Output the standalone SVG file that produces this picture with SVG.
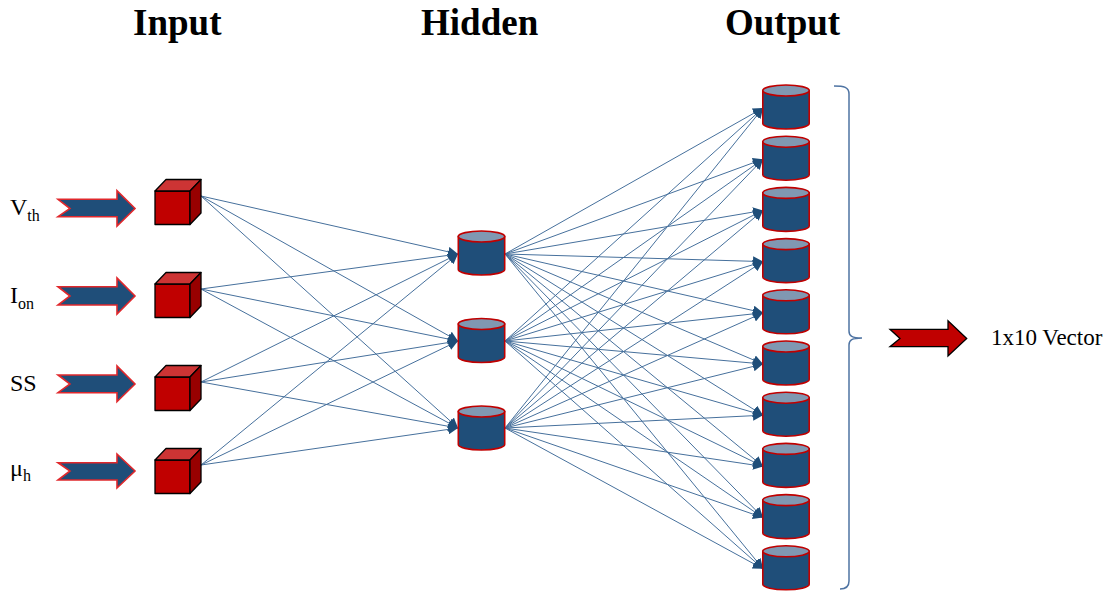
<svg xmlns="http://www.w3.org/2000/svg" xmlns:xlink="http://www.w3.org/1999/xlink" width="1117" height="591" viewBox="0 0 1117 591">
  <style>
    .title { font-family: "Liberation Serif", "Times New Roman", serif; font-weight: bold; font-size: 37px; fill: #000; }
    .lbl { font-family: "Liberation Serif", "Times New Roman", serif; font-size: 24px; fill: #000; }
    .sub { font-size: 16px; }
    .vec { font-family: "Liberation Serif", "Times New Roman", serif; font-size: 23px; fill: #000; }
    .in-arrow { fill: #1f4e79; stroke: #e0282c; stroke-width: 1.6; stroke-linejoin: miter; }
    .out-arrow { fill: #c00000; stroke: #000; stroke-width: 1.3; }
    .link { stroke: #46709c; stroke-width: 1; fill: none; marker-end: url(#tip); }
    .brace { stroke: #4f74a3; stroke-width: 1.5; fill: none; }
    .cube-front { fill: #c00000; }
    .cube-top { fill: #cd3434; }
    .cube-side { fill: #980000; }
    .cube-edge { stroke: #000; stroke-width: 1.3; stroke-linejoin: round; }
    .cyl-body { fill: #1f4e79; stroke: #c00000; stroke-width: 1.6; }
    .cyl-top { fill: #8098b2; stroke: #c00000; stroke-width: 1.6; }
  </style>
  <defs>
    <marker id="tip" viewBox="0 0 10 10" refX="10" refY="5" markerUnits="userSpaceOnUse" markerWidth="10" markerHeight="10" orient="auto">
      <path d="M0,0 L10,5 L0,10 Z" fill="#1f4e79"/>
    </marker>
    <!-- red cube, 46 x 45 bounding box -->
    <g id="cube">
      <rect class="cube-front cube-edge" x="0" y="11.5" width="35" height="33.5"/>
      <polygon class="cube-top cube-edge" points="0,11.5 11,0 46,0 35,11.5"/>
      <polygon class="cube-side cube-edge" points="35,11.5 46,0 46,33.5 35,45"/>
    </g>
    <!-- blue cylinder, 46.4 x 44 bounding box -->
    <g id="cyl">
      <path class="cyl-body" d="M0,5.5 L0,38.5 A23.2,5.5 0 0 0 46.4,38.5 L46.4,5.5 Z"/>
      <ellipse class="cyl-top" cx="23.2" cy="5.5" rx="23.2" ry="5.5"/>
    </g>
  </defs>

  <rect width="1117" height="591" fill="#fff"/>

  <!-- layer titles -->
  <text class="title" x="133" y="35">Input</text>
  <text class="title" x="421" y="35">Hidden</text>
  <text class="title" x="725" y="35">Output</text>

  <!-- connectors -->
  <g id="connectors">
    <!-- input to hidden -->
    <line class="link" x1="201" y1="196" x2="458" y2="254"/>
    <line class="link" x1="201" y1="196" x2="458" y2="341"/>
    <line class="link" x1="201" y1="196" x2="458" y2="428"/>
    <line class="link" x1="201" y1="289" x2="458" y2="254"/>
    <line class="link" x1="201" y1="289" x2="458" y2="341"/>
    <line class="link" x1="201" y1="289" x2="458" y2="428"/>
    <line class="link" x1="201" y1="382" x2="458" y2="254"/>
    <line class="link" x1="201" y1="382" x2="458" y2="341"/>
    <line class="link" x1="201" y1="382" x2="458" y2="428"/>
    <line class="link" x1="201" y1="465" x2="458" y2="254"/>
    <line class="link" x1="201" y1="465" x2="458" y2="341"/>
    <line class="link" x1="201" y1="465" x2="458" y2="428"/>
    <!-- hidden 1 to output -->
    <line class="link" x1="505" y1="254" x2="763" y2="108"/>
    <line class="link" x1="505" y1="254" x2="763" y2="159.2"/>
    <line class="link" x1="505" y1="254" x2="763" y2="210.4"/>
    <line class="link" x1="505" y1="254" x2="763" y2="261.6"/>
    <line class="link" x1="505" y1="254" x2="763" y2="312.8"/>
    <line class="link" x1="505" y1="254" x2="763" y2="364"/>
    <line class="link" x1="505" y1="254" x2="763" y2="415.2"/>
    <line class="link" x1="505" y1="254" x2="763" y2="466.4"/>
    <line class="link" x1="505" y1="254" x2="763" y2="517.6"/>
    <line class="link" x1="505" y1="254" x2="763" y2="568.8"/>
    <!-- hidden 2 to output -->
    <line class="link" x1="505" y1="341" x2="763" y2="108"/>
    <line class="link" x1="505" y1="341" x2="763" y2="159.2"/>
    <line class="link" x1="505" y1="341" x2="763" y2="210.4"/>
    <line class="link" x1="505" y1="341" x2="763" y2="261.6"/>
    <line class="link" x1="505" y1="341" x2="763" y2="312.8"/>
    <line class="link" x1="505" y1="341" x2="763" y2="364"/>
    <line class="link" x1="505" y1="341" x2="763" y2="415.2"/>
    <line class="link" x1="505" y1="341" x2="763" y2="466.4"/>
    <line class="link" x1="505" y1="341" x2="763" y2="517.6"/>
    <line class="link" x1="505" y1="341" x2="763" y2="568.8"/>
    <!-- hidden 3 to output -->
    <line class="link" x1="505" y1="428" x2="763" y2="108"/>
    <line class="link" x1="505" y1="428" x2="763" y2="159.2"/>
    <line class="link" x1="505" y1="428" x2="763" y2="210.4"/>
    <line class="link" x1="505" y1="428" x2="763" y2="261.6"/>
    <line class="link" x1="505" y1="428" x2="763" y2="312.8"/>
    <line class="link" x1="505" y1="428" x2="763" y2="364"/>
    <line class="link" x1="505" y1="428" x2="763" y2="415.2"/>
    <line class="link" x1="505" y1="428" x2="763" y2="466.4"/>
    <line class="link" x1="505" y1="428" x2="763" y2="517.6"/>
    <line class="link" x1="505" y1="428" x2="763" y2="568.8"/>
  </g>

  <!-- input features -->
  <g id="feature-vth">
    <text class="lbl" x="10" y="215">V<tspan class="sub" dy="6">th</tspan></text>
    <polygon class="in-arrow" points="58,199.3 117,199.3 117,190.7 135,208.5 117,226 117,216.7 58,216.7 70,208.5"/>
  </g>
  <g id="feature-ion">
    <text class="lbl" x="10" y="302.5">I<tspan class="sub" dy="6">on</tspan></text>
    <polygon class="in-arrow" points="58,286.7 117,286.7 117,278 135,296 117,314 117,305 58,305 70,296"/>
  </g>
  <g id="feature-ss">
    <text class="lbl" x="10" y="390.5">SS</text>
    <polygon class="in-arrow" points="58,375 117,375 117,366 135,384 117,401.7 117,392.7 58,392.7 70,384"/>
  </g>
  <g id="feature-mu">
    <text class="lbl" x="10" y="476">μ<tspan class="sub" dy="5">h</tspan></text>
    <polygon class="in-arrow" points="58,462.7 117,462.7 117,454 135,471 117,488 117,480 58,480 70,471"/>
  </g>

  <!-- input nodes -->
  <g id="input-1"><use xlink:href="#cube" href="#cube" x="155" y="179.5"/></g>
  <g id="input-2"><use xlink:href="#cube" href="#cube" x="155" y="272.5"/></g>
  <g id="input-3"><use xlink:href="#cube" href="#cube" x="155" y="365.5"/></g>
  <g id="input-4"><use xlink:href="#cube" href="#cube" x="155" y="448.5"/></g>

  <!-- hidden nodes -->
  <g id="hidden-1"><use xlink:href="#cyl" href="#cyl" x="458.3" y="231"/></g>
  <g id="hidden-2"><use xlink:href="#cyl" href="#cyl" x="458.3" y="318.5"/></g>
  <g id="hidden-3"><use xlink:href="#cyl" href="#cyl" x="458.3" y="406"/></g>

  <!-- output nodes -->
  <g id="output-1"><use xlink:href="#cyl" href="#cyl" x="762.8" y="85"/></g>
  <g id="output-2"><use xlink:href="#cyl" href="#cyl" x="762.8" y="136.2"/></g>
  <g id="output-3"><use xlink:href="#cyl" href="#cyl" x="762.8" y="187.4"/></g>
  <g id="output-4"><use xlink:href="#cyl" href="#cyl" x="762.8" y="238.6"/></g>
  <g id="output-5"><use xlink:href="#cyl" href="#cyl" x="762.8" y="289.8"/></g>
  <g id="output-6"><use xlink:href="#cyl" href="#cyl" x="762.8" y="341"/></g>
  <g id="output-7"><use xlink:href="#cyl" href="#cyl" x="762.8" y="392.2"/></g>
  <g id="output-8"><use xlink:href="#cyl" href="#cyl" x="762.8" y="443.4"/></g>
  <g id="output-9"><use xlink:href="#cyl" href="#cyl" x="762.8" y="494.6"/></g>
  <g id="output-10"><use xlink:href="#cyl" href="#cyl" x="762.8" y="545.8"/></g>

  <!-- brace grouping the outputs -->
  <g id="output-brace">
    <path class="brace" d="M834,86 C844,86 849,87 849,94 L849,331 C849,336 852,338 862,338 C852,338 849,340 849,345 L849,581 C849,587 846,589 840,589"/>
  </g>

  <!-- result vector -->
  <g id="result-vector">
    <polygon class="out-arrow" points="890,329.3 948,329.3 948,320.7 966.7,338.5 948,356 948,346.7 890,346.7 900,338.5"/>
    <text class="vec" x="991" y="345">1x10 Vector</text>
  </g>
</svg>
